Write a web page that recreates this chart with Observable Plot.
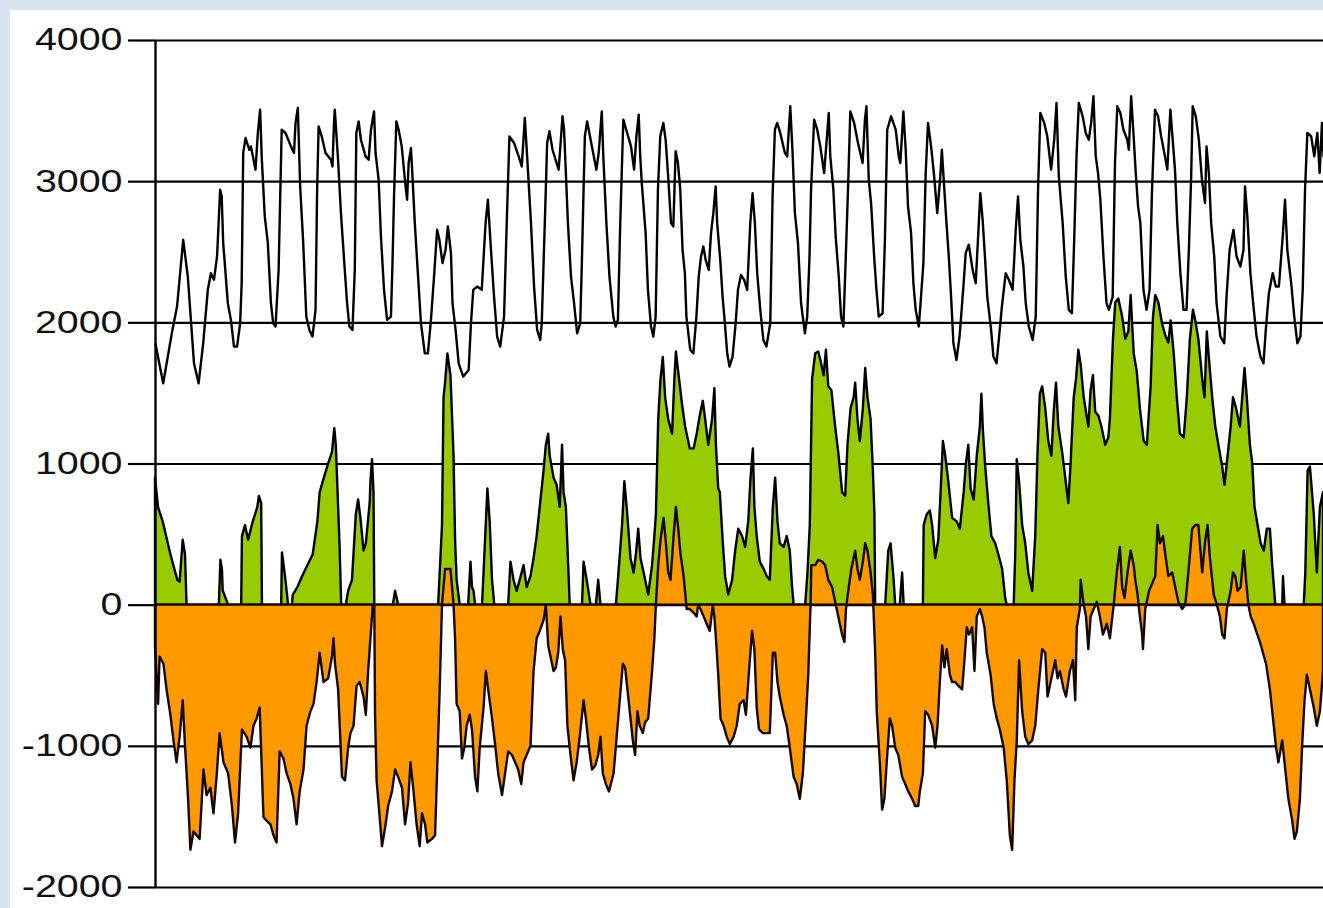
<!DOCTYPE html>
<html><head><meta charset="utf-8">
<script src="https://cdn.jsdelivr.net/npm/d3@7"></script>
<script src="https://cdn.jsdelivr.net/npm/@observablehq/plot@0.6"></script>
<style>
html,body{margin:0;padding:0;background:#d8e4f0;overflow:hidden;width:1323px;height:908px}
#chart{position:absolute;left:10px;top:10px;background:#fff;width:1313px;height:898px;overflow:hidden}
</style></head><body><div id="chart"></div>
<script>
// Hour index (time axis) and values for each series
const demandHour = [0,5,8,11,14,17,18,21,23,25,28,31,34,36,38,40,42,43,44,47,49,51,53,55,56,57,58.5,61,62,65,66.5,68,69,71,73,75,76.5,78,80,82,84.5,88,90,91,92.5,94,96,98,100,102,104,105,106,108,110.5,114,115,116,116.5,118.5,120.5,123,124.5,126,128,129.5,130.5,132,133.5,136.5,138.5,140,142,143,145,146.5,148.5,150.5,153,154,155,156.5,158,160,162.5,163.5,164.5,166,167,168.5,170.5,172.5,175,177,179,181,183,184.5,186.5,188.5,190,192,193,195,197,200,203.5,205,206.5,209,212,214.5,216,218,220,222,224,226.5,228.5,230,233,236,238,240,241.5,244,246,248,250,251,253.5,254.5,256,258,260,262,264.5,265.5,266.5,268,270,272,274,276,277,279,280.5,284,286.5,288,290,291,293,295,297.5,299,300.5,302,304,306.5,309,311,312.5,314,315,316,318.5,320,322,323.5,325,326.5,328,330,331.5,333,335,336.5,338,339.5,341,342.5,344,345,347.5,349.5,351.5,353,354.5,356,357.5,359.5,361,362.5,364,365,367,368.5,370,371.5,373,375,377,378.5,380.5,382.5,384.5,386.5,388,389.5,391,393,395,397,399.5,401,402.5,404,406,409,410.5,412.5,414,415.5,417.5,419.5,422,423.5,425,426,428,430,432,434.5,436,437.5,438.5,440.5,442,444,445.5,447,448.5,450,451.5,454,456.5,459.5,461,462,463.5,465,467,468.5,470,472.5,474,475.5,478,481,483,484,486,487.5,489,491,492.5,494,496,497,499,500.5,502,504,506,508,510,511,512.5,514,515.5,517,518.5,520.5,522.5,525,526.5,528.5,531,533,535,536,537.5,539,540.5,543,544.5,546.5,548,550,552.5,554.5,557,559,560.5,562,564,565.5,567.5,570,572,573.5,575,577.5,579.5,582,584,585.5,587,589.5,591.5,593.5,595.5,597,598.5,600,602.5,604.5,606.5,608,609.5,611,612.5,614,616,618,619.5,622,623.5,625,627,629,631.5,632.5,634,635.5,637,638.5,640,642,644,646,647.5,649.5,651.5,653.5,656,657.5,659.5,661,662.5,664,666,668,670,671.5,673,674,676,678,680,682,683,684.5,686,688,689.5,692,694.5,696,698,700.5,702.5,705,707,708,709.5,711.5,713.5,715.5,718,720,721.5,723.5,726,728,730,732.5,734,735.5,738,740,742,744,745.5,747,748.5,751,753,755,756.5,758,759];
const demandValue = [1850,1572,1761,1950,2115,2470,2588,2328,2021,1713,1572,1855,2234,2352,2305,2470,2943,2896,2565,2139,2021,1832,1832,1997,2281,3203,3309,3226,3250,3085,3345,3510,3179,2754,2565,2139,1997,1974,2375,3368,3345,3250,3203,3416,3522,2966,2565,2044,1950,1903,2092,2919,3392,3321,3203,3155,3108,3416,3510,3179,2777,2375,2139,1974,1950,2375,3345,3427,3297,3179,3155,3368,3498,3203,3014,2612,2234,2021,2044,2423,2896,3427,3368,3250,2966,2872,3132,3238,3037,2706,2352,1997,1784,1784,2021,2328,2659,2588,2423,2517,2683,2494,2139,1950,1713,1619,1666,1997,2234,2257,2234,2706,2872,2517,2186,1903,1832,2044,2801,3321,3274,3179,3108,3451,3179,2706,2257,1950,1879,1997,2896,3274,3357,3226,3155,3085,3463,3368,3108,2706,2328,2139,1926,1997,2399,3321,3427,3226,3085,3203,3498,3179,2706,2328,2044,1974,2021,2706,3439,3345,3250,3085,3321,3475,3179,2990,2635,2234,1974,1903,2044,2943,3321,3416,3297,3061,2706,2683,3215,3132,2943,2517,2352,2044,1808,1784,2044,2328,2470,2541,2446,2375,2635,2777,2966,2706,2446,2186,1997,1784,1690,1761,1997,2234,2340,2305,2234,2706,2919,2706,2352,2092,1879,1832,1997,2896,3368,3416,3345,3203,3179,3534,3203,2777,2565,2139,1926,2044,2470,2943,3439,3368,3250,3061,3274,3487,3179,2943,2612,2328,2044,1974,2446,2943,3498,3416,3274,3132,3439,3534,3014,2848,2470,2234,2044,2068,2588,3368,3463,3368,3179,3132,3498,3226,2825,2635,2281,2092,1974,2115,2423,3061,3416,3250,3037,2777,3037,3226,2966,2706,2470,2186,1855,1737,1903,2257,2494,2553,2375,2281,2706,2919,2730,2470,2186,1950,1761,1713,1879,2115,2352,2305,2234,2659,2896,2588,2399,2139,1974,1879,2044,2943,3487,3416,3321,3085,3297,3557,3037,2706,2328,2092,2068,2588,3179,3557,3463,3345,3297,3416,3605,3179,3061,2872,2470,2139,2092,2186,3132,3534,3487,3368,3297,3226,3605,3345,3061,2825,2706,2234,2092,2234,2919,3510,3463,3321,3179,3085,3510,3297,3085,2706,2352,2092,2092,2517,3037,3534,3463,3297,3014,2848,3250,3061,2706,2470,2139,1903,1855,2186,2517,2659,2470,2399,2517,2966,2754,2352,2115,1903,1761,1713,1950,2210,2352,2257,2257,2612,2872,2517,2281,2044,1855,1903,2234,2943,3345,3321,3179,3345,3061,3416,3179];

const windHour = [0,2,5,10,14.5,16,18,19.5,20.5,41.5,42.5,43.5,44,47.5,56,56.5,58.5,60.5,63.5,66.5,67.5,69,69.5,82,82.5,84.5,86.5,89,89.5,92.5,95.5,99,102.5,105.5,107,109,112.5,115,116.5,117.5,119,120,121,124,125.5,128,130.5,132,133.5,135.5,137,139.5,140,141,142,142.5,154.5,156,158,184,185,186.5,187.5,188.5,190,192,194,195,196,198,203.5,205,206,207,208,212.5,213.5,216,217.5,219,220.5,229.5,231,233,235,237,239.5,241.5,244,246,248,250,252.5,254,255.5,256.5,259,261,263,264.5,265.5,267,268.5,269.5,277.5,278.5,280.5,283,286.5,288,289.5,299.5,301,303.5,305,306.5,309,311,312.5,314,315.5,318.5,320.5,323,324.5,325.5,327,328.5,330,331.5,333.5,336,337.5,338.5,340,342.5,344.5,347.5,350,352,354,356,357.5,359.5,362,363.5,364.5,366,367,369,370.5,372.5,375,377,379,381.5,383.5,385.5,387,388.5,389.5,391,393,395.5,397.5,399.5,401.5,403,404.5,406,408.5,410.5,412.5,414,415,422.5,424,425.5,427,429,431,432.5,434.5,436,437.5,439.5,442,444,446.5,448.5,450,452,454,455,456.5,458,460,461.5,463,465,466.5,467.5,468,474.5,476.5,478,480,481,484,485.5,486.5,499,499.5,501.5,503.5,505,507,509,510.5,512,513.5,515.5,518,521,523,525.5,527,528.5,530,532,534,536,537,538,539.5,541.5,543.5,546,548,550.5,552.5,553.5,558,559,560,561.5,563.5,565.5,567.5,570,572,573.5,575,576.5,578.5,580.5,582.5,584,585.5,587,589.5,591.5,593.5,595,597,598.5,600,601.5,603.5,605,606.5,608,609.5,611,613,615,617.5,619.5,620.5,622.5,624,626,628.5,630.5,632.5,634,636,638,640,642.5,644.5,647,648.5,650,652,654.5,656.5,658.5,660,662,664,666,668.5,670.5,672.5,674.5,676,678,680.5,682,683.5,685,687,689,691,693.5,695,696.5,699,700.5,702.5,705,706.5,708,709.5,711.5,713,714.5,716.5,718.5,720.5,722.5,724.5,726,728,732.5,733,734,746.5,747.5,749,750.5,753,755,757,759];
const windValue = [900,690,590,357,176,163,460,357,0,0,318,250,100,0,0,486,563,460,589,692,770,720,0,0,370,200,0,0,70,124,200,279,357,589,796,873,1000,1080,1250,1130,692,400,0,0,98,176,641,745,615,383,435,719,874,1030,797,0,0,98,0,0,228,564,1469,1573,1780,1625,1055,460,176,0,0,305,124,100,0,0,228,823,590,176,0,0,305,176,98,176,280,124,202,331,486,693,952,1133,1211,1055,900,849,693,1133,797,693,280,0,0,305,176,0,0,176,0,0,202,564,874,693,331,228,357,538,331,176,72,280,486,641,1314,1599,1754,1469,1314,1211,1599,1793,1650,1418,1262,1107,1107,1211,1340,1444,1314,1133,1314,1534,1133,823,800,435,202,72,176,383,538,486,409,590,900,1107,693,486,305,254,202,176,693,900,590,435,409,486,383,124,0,0,228,564,1599,1780,1793,1728,1625,1806,1547,1521,1262,1081,797,771,1133,1392,1469,1573,1314,1159,1392,1676,1469,1314,952,641,0,0,383,435,176,0,0,228,0,0,564,641,667,564,331,460,797,1159,1055,874,615,590,538,797,1004,1133,823,745,1055,1262,1495,1237,978,719,486,435,357,254,47,0,0,357,1030,874,564,435,228,98,486,1081,1495,1547,1392,1159,1055,1366,1573,1262,1081,900,719,1004,1469,1599,1806,1702,1469,1366,1262,1521,1625,1366,1340,1262,1133,1185,1314,1883,2142,2168,2039,1883,1935,2194,1780,1650,1392,1159,1133,1547,2039,2194,2142,1987,1909,1857,2013,1780,1469,1211,1185,1469,1883,2090,2013,1883,1599,1469,1935,1728,1469,1262,1133,978,849,1004,1262,1469,1392,1262,1469,1676,1469,1133,1004,693,564,435,383,538,538,280,0,0,202,0,0,228,952,978,641,228,693,797];

const balanceHour = [0,2,3,5.5,7.5,10,12,14,16,18,19.5,21.5,23,25,29,31.5,33.5,36,38,40,42,44.5,47.5,50,52,54,56.5,59.5,62,64,66,68,70.5,72.5,75,77,79,81,83.5,85.5,88,90,92,94,96.5,98.5,101,103,105,107,109.5,112.5,115,116,117,119,121.5,123.5,125.5,127,129,131,133,135.5,137,138.5,140,141.5,142.5,143,144,146,147.5,149.5,151.5,154,156,158,160.5,162.5,164.5,166,168,170,172,173.5,175.5,177,180,182,183.5,185,186.5,188.5,192,194,195,196,198,199.5,201,202.5,204.5,206,208,209.5,211,213.5,215,216.5,219,221,223,225.5,227.5,229.5,232,234,236,238,239.5,241.5,244,246,248,250,252.5,254,255.5,257,259,260.5,262,263.5,265,266.5,268,270,272,274,276,278.5,280,282,284,286,288,289.5,291,293,295,298,300,302,304,305.5,307,309,310.5,312,313.5,315,317,318.5,320.5,323,324.5,325.5,327,328.5,330.5,332,333.5,335,337,338.5,340,341.5,343.5,345.5,347.5,350,352,353,354.5,356.5,358.5,360.5,362.5,363.5,364.5,366,367.5,369.5,371.5,373.5,376,378,380,382.5,384,386,388,389.5,391,392.5,395,397.5,399.5,401.5,403,404.5,406,408.5,410.5,412.5,415,417,419,421,423,424.5,426,426.5,429,431,433.5,435.5,437.5,440,442,443,445,446.5,448,449,450.5,452.5,455,456.5,458,460,461.5,463,465,466.5,468,469,471,472.5,474,475.5,477.5,479,481,483,485.5,487.5,489.5,492,494,496,497,499,500.5,502.5,505,507,508.5,510,511.5,513,514.5,516.5,518,520,522,524.5,526,527.5,529,531,532.5,534,536,537.5,539,540.5,543,545,547,549,551.5,553.5,555.5,557,558.5,560,561.5,563.5,565.5,567.5,570,572,574,576.5,578.5,580,581.5,583.5,585,586.5,588,590.5,592,594.5,596.5,598,599,601,601.5,603.5,605,606.5,608,610,612,614,616,618.5,620.5,623,625,627,628.5,630,632,634,636,637,638.5,640,641.5,642,643.5,646,648,650,651.5,653,655,656.5,658.5,661,663,665,667.5,669.5,671.5,674,676,678,680.5,682.5,684,685.5,688,690,692,693.5,695,696.5,699,700.5,702,703.5,705.5,707.5,709,710.5,712,714,715.5,718,720,722,724.5,726.5,728.5,730,732.5,734.5,736.5,739,740.5,742,744,745.5,747,748.5,750.5,753,755,757,759];
const balanceValue = [-289,-703,-367,-419,-600,-780,-961,-1116,-935,-677,-1000,-1375,-1736,-1607,-1659,-1168,-1349,-1297,-1478,-1220,-910,-1116,-1194,-1426,-1685,-1478,-884,-935,-1013,-858,-806,-729,-1504,-1530,-1556,-1633,-1685,-1039,-1090,-1194,-1271,-1375,-1556,-1323,-1168,-858,-755,-703,-548,-341,-548,-522,-367,-238,-419,-600,-1220,-1245,-1013,-910,-858,-574,-548,-651,-780,-470,-238,0,0,-780,-1245,-1504,-1711,-1582,-1426,-1323,-1168,-1220,-1297,-1556,-1401,-1116,-1323,-1556,-1711,-1478,-1556,-1685,-1659,-1633,-1116,-600,0,253,253,0,-238,-703,-755,-1090,-1013,-858,-780,-884,-1220,-1323,-1013,-729,-470,-600,-806,-988,-1194,-1349,-1194,-1039,-1065,-1116,-1168,-1271,-1116,-1065,-1000,-470,-238,-186,-109,0,-289,-367,-470,-444,-341,-83,-315,-393,-858,-1065,-1245,-1116,-935,-677,-806,-1013,-1168,-1142,-1065,-935,-1194,-1271,-1323,-1194,-935,-677,-419,-444,-600,-806,-961,-1065,-755,-858,-910,-832,-806,-470,-238,0,280,460,615,435,228,176,486,693,538,357,202,-31,-31,-57,-83,0,-31,-83,-135,-186,0,-83,-238,-496,-806,-858,-935,-988,-935,-858,-703,-677,-780,-470,-186,-315,-729,-884,-910,-910,-910,-341,-341,-548,-651,-780,-858,-1013,-1220,-1271,-1375,-1194,-806,-496,0,280,280,318,305,280,176,124,20,-31,-135,-212,-264,-31,98,253,383,253,176,305,435,383,228,72,-341,-755,-1116,-1452,-1375,-1116,-806,-858,-1013,-1065,-1220,-1271,-1323,-1375,-1426,-1426,-1323,-1194,-755,-780,-858,-1013,-858,-548,-289,-444,-315,-496,-548,-548,-574,-600,-393,-160,-212,-160,-470,-83,-31,-83,-160,-341,-496,-703,-806,-884,-1013,-1245,-1633,-1737,-1245,-961,-393,-755,-935,-988,-961,-858,-600,-315,-341,-651,-574,-470,-393,-522,-470,-600,-651,-470,-393,-677,-160,-31,176,0,-83,-315,-83,-31,20,-83,-212,-135,-238,0,228,409,124,47,228,383,280,176,72,-83,-212,-315,-31,98,150,202,564,435,486,357,202,228,124,20,-31,0,228,538,564,564,228,460,564,331,72,0,-83,-212,-238,-31,98,228,202,98,124,383,176,0,-83,-135,-186,-264,-341,-419,-600,-806,-1013,-1116,-961,-1168,-1375,-1530,-1659,-1607,-1375,-988,-677,-496,-600,-729,-858,-755,-470];

const rows = (hs, vs) => hs.map((h, i) => ({hour: h, value: vs[i]}));
const demand = rows(demandHour, demandValue);
const wind = rows(windHour, windValue);
const balance = rows(balanceHour, balanceValue);
const yTicks = [-2000, -1000, 0, 1000, 2000, 3000, 4000];

const chart = Plot.plot({
  width: 1313,
  height: 898,
  marginLeft: 145,
  marginRight: 0,
  marginTop: 30,
  marginBottom: 21,
  style: {background: "#ffffff", fontFamily: "'Liberation Sans', Arial, sans-serif", color: "#000"},
  x: {domain: [0, 759], axis: null},
  y: {domain: [-2000, 4000], axis: null},
  marks: [
    Plot.ruleY(yTicks, {stroke: "#000", strokeWidth: 2.2}),
    Plot.areaY(wind, {x: "hour", y: "value", fill: "#99cc00", stroke: "#000", strokeWidth: 2.4, strokeLinejoin: "round"}),
    Plot.areaY(balance, {x: "hour", y: "value", fill: "#ff9900", stroke: "#140800", strokeWidth: 2.4, strokeLinejoin: "round"}),
    Plot.lineY(demand, {x: "hour", y: "value", stroke: "#000", strokeWidth: 2.4, strokeLinejoin: "round"}),
    Plot.ruleX([0], {stroke: "#000", strokeWidth: 2.4}),
    Plot.axisY({ticks: yTicks, label: null, tickSize: 27, tickPadding: 6, fontSize: 31, tickFormat: d => String(d), stroke: "#000", strokeWidth: 2.2, strokeOpacity: 1, fill: "#111"})
  ]
});
document.getElementById("chart").appendChild(chart);
// widen tick labels like the reference's stretched glyphs
d3.select(chart).selectAll('g[aria-label="y-axis tick label"] text').each(function() {
  const t = this.getAttribute("transform") || "";
  this.setAttribute("transform", t + " scale(1.27,1)");
});
</script>
</body></html>
